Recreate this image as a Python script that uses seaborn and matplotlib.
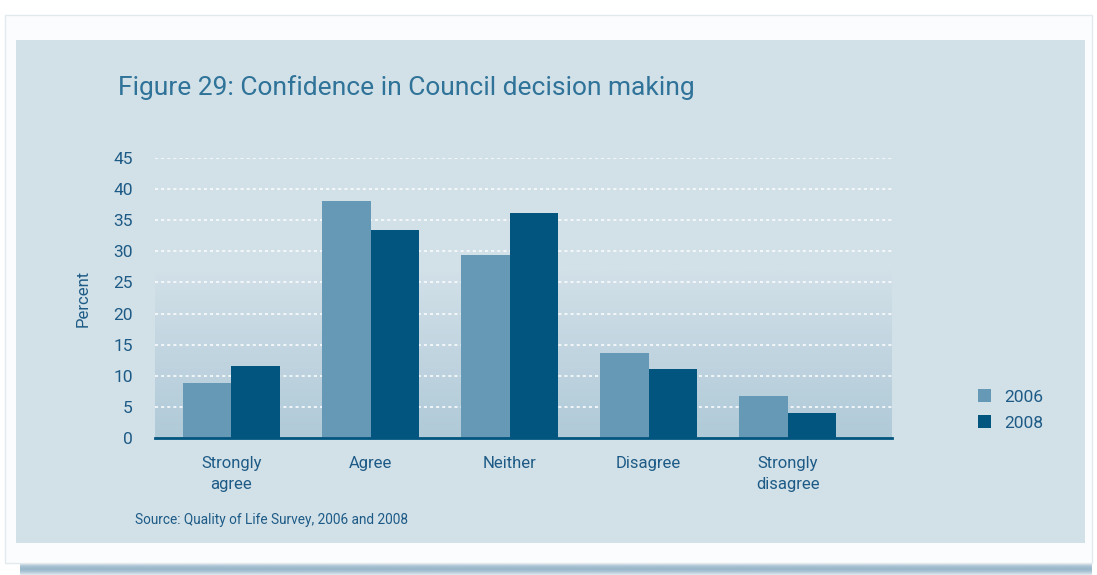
import numpy as np
import pandas as pd
import matplotlib
matplotlib.use("Agg")
import matplotlib.pyplot as plt
from matplotlib.patches import Rectangle, Patch
import seaborn as sns

categories = ["Strongly\nagree", "Agree", "Neither", "Disagree", "Strongly\ndisagree"]
years = ["2006", "2008"]
values_2006 = [8.9, 38.0, 29.4, 13.7, 6.8]
values_2008 = [11.6, 33.4, 36.1, 11.1, 4.1]
y_ticks = [0, 5, 10, 15, 20, 25, 30, 35, 40, 45]

title = "Figure 29: Confidence in Council decision making"
source = "Source: Quality of Life Survey, 2006 and 2008"

PANEL = "#d2e0e8"
GRAD_BOTTOM = "#b0cad8"
C2006 = "#6699b5"
C2008 = "#02557f"
TEXT = "#1d5b86"
TITLE = "#2f7399"

sns.set_theme(style="white")
plt.rcParams["font.family"] = ["Roboto", "DejaVu Sans"]

W, H = 1097, 575
fig = plt.figure(figsize=(W / 100, H / 100), dpi=100, facecolor="white")

def fx(px):
    return px / W

def fy(py):
    return 1 - py / H

# soft blue shadow under the frame
sax = fig.add_axes([fx(20), 0, fx(1072), (H - 561) / H], zorder=-3)
t = np.linspace(0, 1, 32)
shade = np.zeros((32, 1, 4))
shade[:, 0, :3] = matplotlib.colors.to_rgb("#6592b0")
shade[:, 0, 3] = 0.65 * np.clip(np.sin(np.pi * (0.15 + 0.8 * t)), 0, 1) ** 1.5
sax.imshow(shade, aspect="auto", extent=(0, 1, 0, 1), origin="lower")
sax.axis("off")

# outer frame and inner panel
fig.patches.append(Rectangle((fx(5), fy(563)), fx(1087), fy(15) - fy(563),
                             transform=fig.transFigure, facecolor="#fbfcfd",
                             edgecolor="#e3eaee", lw=1.0, zorder=-2))
fig.patches.append(Rectangle((fx(16), fy(543)), fx(1069), fy(40) - fy(543),
                             transform=fig.transFigure, facecolor=PANEL,
                             edgecolor="none", zorder=-1))

# plot axes
zero_y, top_y = 438.3, 157.7
left_x, right_x = 155, 892
ax = fig.add_axes([fx(left_x), fy(zero_y), fx(right_x - left_x), (zero_y - top_y) / H])
ax.set_facecolor(PANEL)

df = pd.DataFrame({
    "category": categories * 2,
    "year": [years[0]] * len(categories) + [years[1]] * len(categories),
    "value": values_2006 + values_2008,
})

sns.barplot(data=df, x="category", y="value", hue="year", order=categories,
            hue_order=years, palette=[C2006, C2008], width=0.7, saturation=1,
            edgecolor="none", linewidth=0, legend=False, ax=ax, zorder=3)

xlim = (-0.55, 4.75)

# vertical gradient in lower portion of the plot area
grad_top = 26.8
g = np.linspace(0, 1, 128).reshape(-1, 1)
c0 = np.array(matplotlib.colors.to_rgb(PANEL))
c1 = np.array(matplotlib.colors.to_rgb(GRAD_BOTTOM))
img = c0[None, None, :] * (1 - g[:, :, None]) + c1[None, None, :] * g[:, :, None]
ax.imshow(img, aspect="auto", extent=(xlim[0], xlim[1], 0, grad_top), origin="upper", zorder=0)
ax.set_xlim(*xlim)
ax.set_ylim(0, 45)

for yv in y_ticks[1:]:
    ax.axhline(yv, color="white", lw=1.1, ls=(0, (2, 2)), zorder=1)

for s in ["top", "right", "left"]:
    ax.spines[s].set_visible(False)
ax.spines["bottom"].set_color(C2008)
ax.spines["bottom"].set_linewidth(2)
ax.spines["bottom"].set_zorder(5)

ax.set_yticks(y_ticks)
ax.set_yticklabels([str(v) for v in y_ticks], color=TEXT, fontsize=12.5)
ax.tick_params(axis="y", length=0, pad=16)
ax.tick_params(axis="x", length=0, pad=13, labelsize=12, labelcolor=TEXT)
for lbl in ax.get_xticklabels():
    lbl.set_linespacing(1.45)
ax.set_xlabel("")
ax.set_ylabel("Percent", color=TEXT, fontsize=12, labelpad=16)
ax.grid(False)

fig.text(fx(118), fy(88), title, color=TITLE, fontsize=19, va="center", ha="left")
fig.text(fx(135), fy(520), source, color=TEXT, fontsize=9.8, va="center", ha="left")

handles = [Patch(facecolor=C2006, edgecolor="none"), Patch(facecolor=C2008, edgecolor="none")]
fig.legend(handles, years, loc="center left", bbox_to_anchor=(fx(962), fy(410)),
           frameon=False, fontsize=12.5, labelcolor=TEXT, handlelength=0.75,
           handleheight=0.75, handletextpad=0.8, labelspacing=0.6)

fig.savefig("out.png", dpi=100, facecolor="white")
